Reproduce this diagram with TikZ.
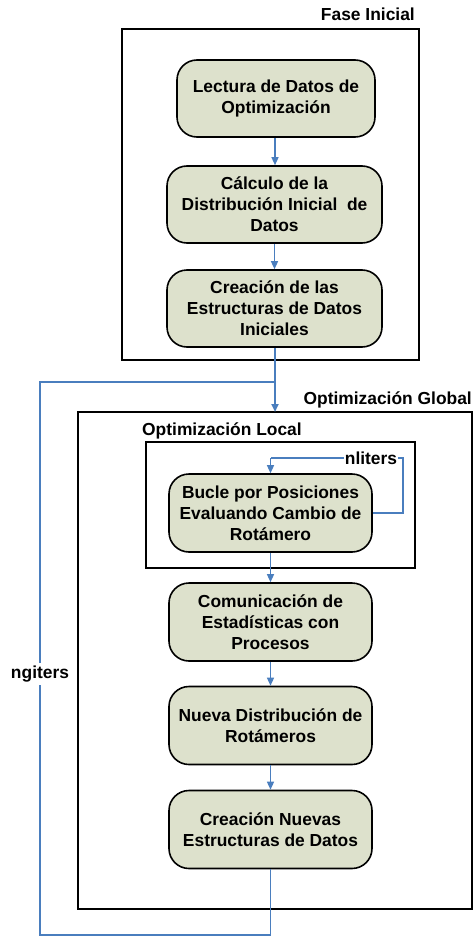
\documentclass[tikz,border=0pt]{standalone}
\usepackage{fontspec}
\setmainfont{Liberation Sans}
\usetikzlibrary{arrows.meta}
\definecolor{boxfill}{HTML}{DDE1CC}
\definecolor{flow}{HTML}{4A7EBE}
\tikzset{
  proc/.style={draw=black, line width=1.6pt, fill=boxfill, rounded corners=20pt,
    align=center, inner sep=2pt, font=\fontsize{17.4}{21}\selectfont\bfseries},
  frame/.style={draw=black, line width=1.6pt},
  lbl/.style={font=\fontsize{17.4}{21}\selectfont\bfseries, inner sep=1pt},
  conn/.style={draw=flow, line width=1.3pt, -{Triangle[width=7pt,length=8pt]}},
  line/.style={draw=flow, line width=1.3pt},
}
\begin{document}
\begin{tikzpicture}[x=1pt,y=-1pt]
\useasboundingbox (0,0) rectangle (475,936);
% frames
\draw[frame] (122,29) rectangle (419,360);
\draw[frame] (78,412) rectangle (472,909);
\draw[frame] (146,442) rectangle (415,568);
\node[lbl, anchor=east] (tfase) at (416,14) {Fase Inicial};
\node[lbl, anchor=east] (tglob) at (473,400) {Optimización Global};
\node[lbl, anchor=west] (tloc) at (141,431) {Optimización Local};
% process boxes
\node[proc, minimum width=198pt, minimum height=77pt] (b1) at (276,98.5) {Lectura de Datos de\\Optimización};
\node[proc, minimum width=215pt, minimum height=77pt] (b2) at (274.5,204.5) {Cálculo de la\\Distribución Inicial\ \ de\\Datos};
\node[proc, minimum width=215pt, minimum height=77pt] (b3) at (274.5,308.5) {Creación de las\\Estructuras de Datos\\Iniciales};
\node[proc, minimum width=203pt, minimum height=78pt] (b4) at (270.5,513) {Bucle por Posiciones\\Evaluando Cambio de\\Rotámero};
\node[proc, minimum width=203pt, minimum height=78pt] (b5) at (270.5,622) {Comunicación de\\Estadísticas con\\Procesos};
\node[proc, minimum width=203pt, minimum height=78pt] (b6) at (270.5,725.5) {Nueva Distribución de\\Rotámeros};
\node[proc, minimum width=203pt, minimum height=78pt] (b7) at (270.5,829.5) {Creación Nuevas\\Estructuras de Datos};
% coordinates
\coordinate (gtop) at (275,412);
\coordinate (join) at (275,382);
\coordinate (lefttop) at (40,382);
\coordinate (bot) at (270.5,935);
\coordinate (nlr) at (403,458);
\coordinate (nll) at (270.5,458);
% connectors
\draw[conn] (b1.south -| 275,0) -- (b2.north -| 275,0);
\draw[conn] (b2.south) -- (b3.north);
\draw[conn, line width=2pt] (b3.south -| gtop) -- (gtop);
\draw[conn] (b4.south) -- (b5.north);
\draw[conn] (b5.south) -- (b6.north);
\draw[conn] (b6.south) -- (b7.north);
\draw[line] (b7.south) -- (bot) -| (lefttop) -- (join);
\draw[line] (b4.east) -| (nlr) -- (nll);
\draw[conn] (nll) -- (b4.north);
% loop labels
\node[lbl, fill=white, inner xsep=1pt, inner ysep=3pt] (nliters) at (371,458) {nliters};
\node[lbl, fill=white, inner sep=3pt] (ngiters) at (40,674) {ngiters};
\end{tikzpicture}
\end{document}
